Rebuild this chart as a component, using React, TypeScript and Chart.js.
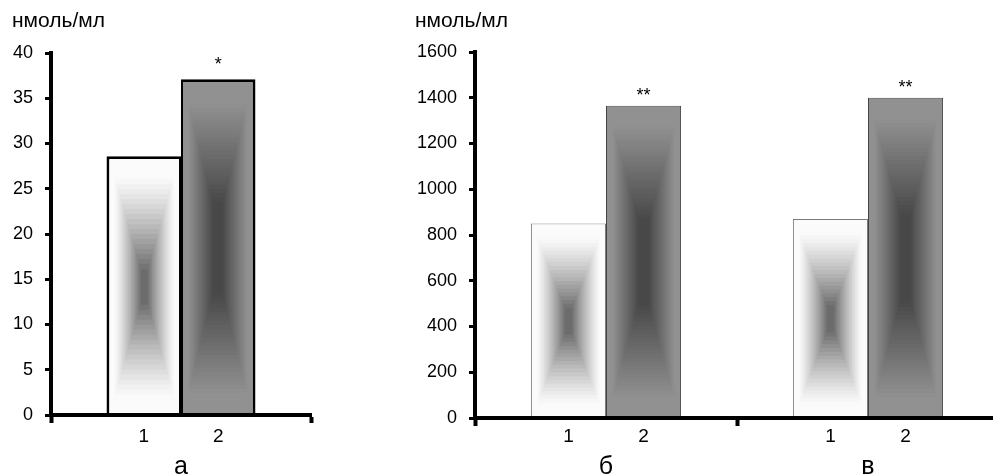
import React, { useEffect, useRef } from 'react';
import { Chart, registerables } from 'chart.js';

Chart.register(...registerables);

// ---------- data ----------
const leftCategories = ['а'];
const rightCategories = ['б', 'в'];
const barLabels = ['1', '2'];
const leftSeries1 = [28.6];
const leftSeries2 = [37.1];
const rightSeries1 = [850, 870];
const rightSeries2 = [1365, 1400];
const leftMarks = ['*'];
const rightMarks = ['**', '**'];
const leftTicks = [0, 5, 10, 15, 20, 25, 30, 35, 40];
const rightTicks = [0, 200, 400, 600, 800, 1000, 1200, 1400, 1600];
const unitLabel = 'нмоль/мл';

const FONT = '"Liberation Sans", Arial, sans-serif';

// shading of the two series (concentric rectangle gradient)
const shades = [
  { edge: 251, center: 108, power: 1.25, hold: 0.12, ax: 0.9, ay: 0.86, rings: 22 },
  { edge: 145, center: 72, power: 1.0, hold: 0.16, ax: 0.86, ay: 0.72, rings: 28 },
];

type Panel = {
  categories: string[];
  s1: number[];
  s2: number[];
  marks: string[];
  ticks: number[];
  canvasW: number;
  canvasH: number;
  axisW: number;
  pad: { top: number; right: number };
  xAxisH: number;
  border1: any;
  border2: any;
  borderColor1: string;
  borderColor2: string;
  unitX: number;
  markGap: number;
};

function paintShade(ctx: CanvasRenderingContext2D, x0: number, y0: number, x1: number, y1: number, sh: any) {
  const cx = (x0 + x1) / 2;
  const cy = (y0 + y1) / 2;
  const hw = (x1 - x0) / 2;
  const hh = (y1 - y0) / 2;
  if (hw <= 0 || hh <= 0) return;
  const N = sh.rings;
  for (let i = 0; i <= N; i++) {
    const t = i / N;
    const u = Math.max(0, (t - sh.hold) / (1 - sh.hold));
    const v = Math.round(sh.edge + (sh.center - sh.edge) * Math.pow(u, sh.power));
    ctx.fillStyle = `rgb(${v},${v},${v})`;
    const w = hw * (1 - sh.ax * t);
    const h = hh * (1 - sh.ay * t);
    ctx.fillRect(cx - w, cy - h, 2 * w, 2 * h);
  }
}

function makeChart(canvas: HTMLCanvasElement, p: Panel) {
  const borders = [p.border1, p.border2];
  const shadePlugin = {
    id: 'shade',
    afterDatasetsDraw(chart: any) {
      const ctx = chart.ctx;
      const a = chart.chartArea;
      ctx.save();
      ctx.beginPath();
      ctx.rect(a.left, a.top, a.right - a.left, a.bottom - a.top);
      ctx.clip();
      chart.data.datasets.forEach((_: any, di: number) => {
        const meta = chart.getDatasetMeta(di);
        const bw = borders[di];
        meta.data.forEach((el: any) => {
          const { x, y, base, width } = el.getProps(['x', 'y', 'base', 'width'], true);
          const left = x - width / 2 + bw.left;
          const right = x + width / 2 - bw.right;
          const top = Math.min(y, base) + bw.top;
          const bottom = Math.max(y, base) - bw.bottom;
          paintShade(ctx, left, top, right, bottom, shades[di]);
        });
      });
      ctx.restore();
    },
  };
  const textPlugin = {
    id: 'texts',
    afterDraw(chart: any) {
      const ctx = chart.ctx;
      ctx.save();
      ctx.fillStyle = '#000';
      ctx.font = `21px ${FONT}`;
      ctx.textAlign = 'left';
      ctx.textBaseline = 'alphabetic';
      ctx.fillText(unitLabel, p.unitX, 27);
      ctx.textAlign = 'center';
      chart.data.datasets.forEach((_: any, di: number) => {
        const meta = chart.getDatasetMeta(di);
        meta.data.forEach((el: any, i: number) => {
          ctx.font = `19px ${FONT}`;
          ctx.fillText(barLabels[di], el.x, 442);
          if (di === 1 && p.marks[i]) {
            ctx.font = `18px ${FONT}`;
            ctx.fillText(p.marks[i], el.x, el.y - p.markGap);
          }
        });
      });
      const xs = chart.scales.x;
      ctx.font = `25px ${FONT}`;
      p.categories.forEach((c, i) => {
        ctx.fillText(c, xs.getPixelForValue(i), 474);
      });
      ctx.restore();
    },
  };

  return new Chart(canvas, {
    type: 'bar',
    data: {
      labels: p.categories,
      datasets: [
        {
          label: barLabels[0],
          data: p.s1,
          backgroundColor: `rgb(${shades[0].edge},${shades[0].edge},${shades[0].edge})`,
          borderColor: p.borderColor1,
          borderWidth: p.border1,
          borderSkipped: false,
          categoryPercentage: 0.573,
          barPercentage: 1,
        },
        {
          label: barLabels[1],
          data: p.s2,
          backgroundColor: `rgb(${shades[1].edge},${shades[1].edge},${shades[1].edge})`,
          borderColor: p.borderColor2,
          borderWidth: p.border2,
          borderSkipped: false,
          categoryPercentage: 0.573,
          barPercentage: 1,
        },
      ],
    },
    options: {
      responsive: false,
      animation: false,
      devicePixelRatio: 1,
      layout: { padding: { top: p.pad.top, right: p.pad.right, left: 0, bottom: 0 } },
      plugins: { legend: { display: false }, tooltip: { enabled: false }, title: { display: false } },
      scales: {
        x: {
          type: 'category',
          offset: true,
          grid: {
            display: true,
            offset: true,
            drawOnChartArea: false,
            drawTicks: true,
            tickLength: 8,
            tickWidth: 4,
            tickColor: '#000',
            z: 1,
          },
          border: { display: true, width: 4, color: '#000', z: 1 },
          ticks: { display: false },
          afterFit: (s: any) => {
            s.height = p.xAxisH;
          },
        },
        y: {
          min: p.ticks[0],
          max: p.ticks[p.ticks.length - 1],
          ticks: {
            stepSize: p.ticks[1] - p.ticks[0],
            color: '#000',
            padding: 12,
            font: { family: FONT, size: 18 },
            callback: (v: any) => String(v),
          },
          grid: {
            display: true,
            drawOnChartArea: false,
            drawTicks: true,
            tickLength: 6,
            tickWidth: 3,
            tickColor: '#000',
            z: 1,
          },
          border: { display: true, width: 4, color: '#000', z: 1 },
          afterFit: (s: any) => {
            s.width = p.axisW;
          },
        },
      },
    },
    plugins: [shadePlugin, textPlugin],
  } as any);
}

const leftPanel: Panel = {
  categories: leftCategories,
  s1: leftSeries1,
  s2: leftSeries2,
  marks: leftMarks,
  ticks: leftTicks,
  canvasW: 330,
  canvasH: 475,
  axisW: 51,
  pad: { top: 53, right: 19 },
  xAxisH: 60,
  border1: { top: 3, left: 3, right: 2, bottom: 0 },
  border2: { top: 3, left: 2, right: 3, bottom: 0 },
  borderColor1: '#000',
  borderColor2: '#000',
  unitX: 12,
  markGap: 9,
};

const rightPanel: Panel = {
  categories: rightCategories,
  s1: rightSeries1,
  s2: rightSeries2,
  marks: rightMarks,
  ticks: rightTicks,
  canvasW: 620,
  canvasH: 475,
  axisW: 75,
  pad: { top: 52, right: 21 },
  xAxisH: 57,
  border1: { top: 1, left: 1, right: 1, bottom: 0 },
  border2: { top: 1, left: 1, right: 1, bottom: 0 },
  borderColor1: '#7a7a7a',
  borderColor2: '#444',
  unitX: 15,
  markGap: 5,
};

export default function App() {
  const leftRef = useRef<HTMLCanvasElement>(null);
  const rightRef = useRef<HTMLCanvasElement>(null);

  useEffect(() => {
    const c1 = makeChart(leftRef.current!, leftPanel);
    const c2 = makeChart(rightRef.current!, rightPanel);
    return () => {
      c1.destroy();
      c2.destroy();
    };
  }, []);

  return (
    <div style={{ position: 'fixed', left: 0, top: 0, width: 993, height: 475, overflow: 'hidden', background: '#fff' }}>
      <canvas
        ref={leftRef}
        width={leftPanel.canvasW}
        height={leftPanel.canvasH}
        style={{ position: 'absolute', left: 0, top: 0, width: leftPanel.canvasW, height: leftPanel.canvasH }}
      />
      <canvas
        ref={rightRef}
        width={rightPanel.canvasW}
        height={rightPanel.canvasH}
        style={{ position: 'absolute', left: 400, top: 0, width: rightPanel.canvasW, height: rightPanel.canvasH }}
      />
    </div>
  );
}
